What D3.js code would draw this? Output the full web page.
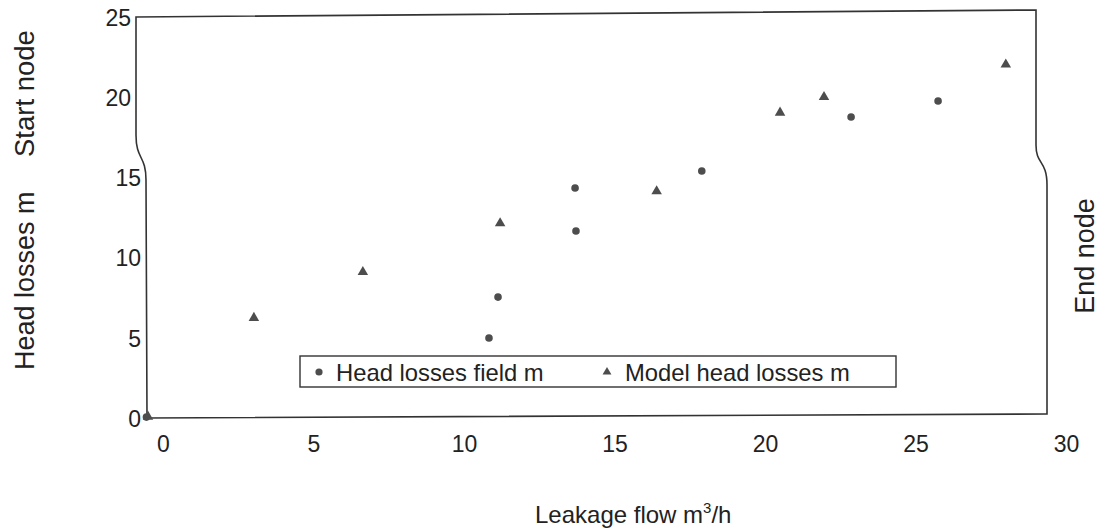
<!DOCTYPE html>
<html>
<head>
<meta charset="utf-8">
<script src="https://cdn.jsdelivr.net/npm/d3@7"></script>
<style>
  body { margin: 0; background: #fff; }
  text { font-family: "Liberation Sans", Arial, Helvetica, sans-serif; fill: #222; }
</style>
</head>
<body>
<svg id="chart" width="1107" height="529"></svg>
<script>
// Data
var fieldX = [-0.55, 10.83, 11.13, 13.72, 13.69, 17.9, 22.86, 25.75];
var fieldY = [0.12, 5.05, 7.6, 11.72, 14.4, 15.46, 18.83, 19.83];
var modelX = [-0.5, 3.02, 6.64, 11.2, 16.4, 20.5, 21.96, 28.0];
var modelY = [0.15, 6.3, 9.16, 12.2, 14.2, 19.1, 20.07, 22.1];
var xTicks = [0, 5, 10, 15, 20, 25, 30];
var yTicks = [0, 5, 10, 15, 20, 25];
var legendLabels = ["Head losses field m", "Model head losses m"];

var svg = d3.select("#chart");
var ink = "#333";
var markColor = "#4d4d4d";

// scales (0 -> 163px, 30 -> 1066px ; 0 -> 419px, 25 -> 18px)
var x = d3.scaleLinear().domain([0, 30]).range([163, 1066]);
var y = d3.scaleLinear().domain([0, 25]).range([419, 18]);

// frame, a bit bent like the scanned page
var frame = d3.path();
frame.moveTo(136, 17);
frame.lineTo(1036, 10);
frame.lineTo(1036, 145);
frame.bezierCurveTo(1036, 165, 1047, 160, 1047, 185);
frame.lineTo(1047, 414);
frame.lineTo(147, 418);
frame.lineTo(146, 180);
frame.bezierCurveTo(146, 155, 136, 160, 136, 135);
frame.closePath();
svg.append("path")
  .attr("d", frame.toString())
  .attr("fill", "none")
  .attr("stroke", ink)
  .attr("stroke-width", 1.6);

// axes: labels only, no tick marks
var xAxis = d3.axisBottom(x).tickValues(xTicks).tickSize(0).tickPadding(0);
var gx = svg.append("g").attr("transform", "translate(0,436)").call(xAxis);
gx.select(".domain").remove();
gx.selectAll("text")
  .style("font-size", "23px")
  .style("font-family", "Liberation Sans, Arial, sans-serif")
  .attr("fill", ink);

var yAxis = d3.axisLeft(y).tickValues(yTicks).tickSize(0).tickPadding(0);
var gy = svg.append("g").attr("transform", "translate(141,0)").call(yAxis);
gy.select(".domain").remove();
gy.selectAll("text")
  .style("font-size", "23px")
  .style("font-family", "Liberation Sans, Arial, sans-serif")
  .attr("fill", ink)
  // the upper labels sit further left, where the page bends
  .attr("x", function(d) { return d >= 20 ? -10 : 0; });

// axis titles
var xt = svg.append("text")
  .attr("x", 535)
  .attr("y", 523)
  .style("font-size", "24px");
xt.append("tspan").text("Leakage flow m");
xt.append("tspan").attr("dy", -10).style("font-size", "15px").text("3");
xt.append("tspan").attr("dy", 10).text("/h");

svg.append("text")
  .attr("transform", "translate(34,370) rotate(-90)")
  .style("font-size", "27px")
  .text("Head losses m");

svg.append("text")
  .attr("transform", "translate(34,157) rotate(-90)")
  .style("font-size", "27.5px")
  .text("Start node");

svg.append("text")
  .attr("transform", "translate(1094,256) rotate(-90)")
  .attr("text-anchor", "middle")
  .style("font-size", "27px")
  .text("End node");

// points
var field = fieldX.map(function(d, i) { return {x: d, y: fieldY[i]}; });
var model = modelX.map(function(d, i) { return {x: d, y: modelY[i]}; });

svg.append("g")
  .selectAll("circle")
  .data(field)
  .enter()
  .append("circle")
  .attr("cx", function(d) { return x(d.x); })
  .attr("cy", function(d) { return y(d.y); })
  .attr("r", 3.8)
  .attr("fill", markColor);

var tri = d3.symbol().type(d3.symbolTriangle).size(48);
svg.append("g")
  .selectAll("path")
  .data(model)
  .enter()
  .append("path")
  .attr("d", tri)
  .attr("transform", function(d) {
    return "translate(" + x(d.x) + "," + y(d.y) + ")";
  })
  .attr("fill", markColor);

// legend
var legend = svg.append("g");
legend.append("rect")
  .attr("x", 300)
  .attr("y", 356)
  .attr("width", 596)
  .attr("height", 31)
  .attr("fill", "#fff")
  .attr("stroke", ink)
  .attr("stroke-width", 1.4);
legend.append("circle")
  .attr("cx", 319)
  .attr("cy", 372)
  .attr("r", 3.6)
  .attr("fill", markColor);
legend.append("text")
  .attr("x", 336)
  .attr("y", 381)
  .style("font-size", "23.8px")
  .text(legendLabels[0]);
legend.append("path")
  .attr("d", d3.symbol().type(d3.symbolTriangle).size(34))
  .attr("transform", "translate(607,372)")
  .attr("fill", markColor);
legend.append("text")
  .attr("x", 625)
  .attr("y", 381)
  .style("font-size", "23.8px")
  .text(legendLabels[1]);
</script>
</body>
</html>
